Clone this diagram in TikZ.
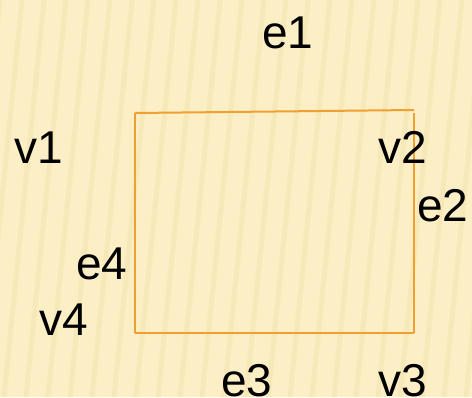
\documentclass[tikz,border=0pt]{standalone}
\usepackage{fontspec}
\setmainfont{Liberation Sans}
\usepackage{tikz}
\definecolor{paperColor}{HTML}{FCEFC6}
\definecolor{stripeColor}{HTML}{EEDB9C}
\definecolor{edgeColor}{HTML}{F0A030}
\tikzset{
    lbl/.style={anchor=base, inner sep=0pt, font=\fontsize{23}{27}\selectfont},
    edge/.style={edgeColor, line width=1pt}
}

\begin{document}
\begin{tikzpicture}[x=0.5pt, y=-0.5pt]
    \fill[paperColor] (0,0) rectangle (472,397);
    \useasboundingbox (0,0) rectangle (472,397);

    \begin{scope}
        \clip (0,0) rectangle (472,397);
        \foreach \s in {-40,-18,...,500}
            \draw[stripeColor, line width=2.5pt, opacity=0.3] (\s,397) -- (\s+40,0);
    \end{scope}

    \coordinate (c1) at (135,113);
    \coordinate (c2) at (414,110);
    \coordinate (c2b) at (414,113);
    \coordinate (c3) at (414,333);
    \coordinate (c4) at (135,333);

    \draw[edge] (c1) -- (c2);
    \draw[edge] (c2b) -- (c3);
    \draw[edge] (c3) -- (c4);
    \draw[edge] (c4) -- (c1);

    \node[lbl] (e1) at (288,48) {e1};
    \node[lbl] (v1) at (39,163) {v1};
    \node[lbl] (v2) at (403,163) {v2};
    \node[lbl] (e2) at (443,221) {e2};
    \node[lbl] (e4) at (102,279) {e4};
    \node[lbl] (v4) at (64,335) {v4};
    \node[lbl] (e3) at (247,396) {e3};
    \node[lbl] (v3) at (403,396) {v3};
\end{tikzpicture}
\end{document}
